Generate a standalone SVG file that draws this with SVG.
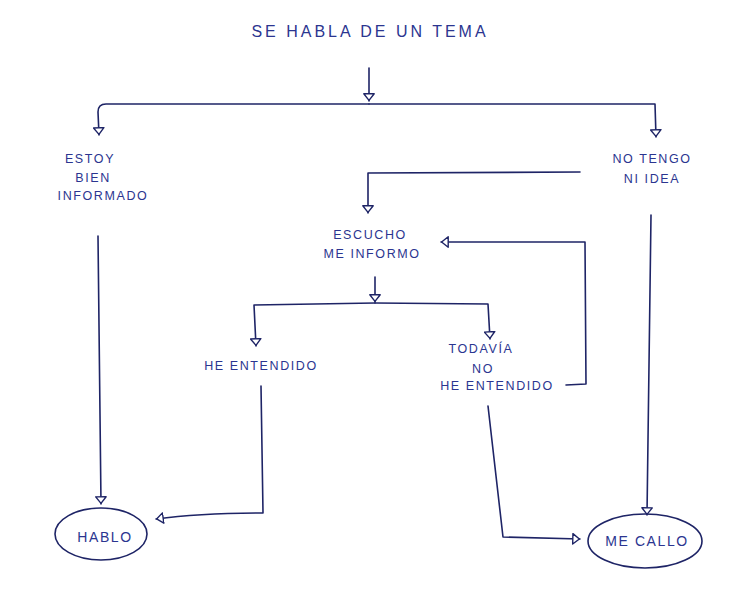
<svg xmlns="http://www.w3.org/2000/svg" width="747" height="596" viewBox="0 0 747 596">
  <style>
    .lbl { font-family: "Liberation Sans", Arial, sans-serif; font-size: 12.5px; fill: #2b3590; text-anchor: middle; letter-spacing: 1.6px; }
    .title { font-family: "Liberation Sans", Arial, sans-serif; font-size: 16px; fill: #2b3590; text-anchor: middle; letter-spacing: 3px; }
    .wire { fill: none; stroke: #1e2466; stroke-width: 1.6; stroke-linecap: round; stroke-linejoin: round; }
    .oval { fill: none; stroke: #1e2466; stroke-width: 1.6; }
  </style>
  <defs>
    <marker id="tri" viewBox="0 0 8 12" refX="8" refY="6" markerWidth="8" markerHeight="12" markerUnits="userSpaceOnUse" orient="auto">
      <path d="M0.8,0.8 L7.4,6 L0.8,11.2 Z" fill="#ffffff" stroke="#1e2466" stroke-width="1.4" stroke-linejoin="round"/>
    </marker>
  </defs>
  <rect width="747" height="596" fill="#ffffff"/>

  <g id="connectors">
    <path class="wire" d="M369,68 L369,101" marker-end="url(#tri)"/>
    <path class="wire" d="M369,104 L106,104 Q98,104 98,112 L99,135" marker-end="url(#tri)"/>
    <path class="wire" d="M369,104 L655,104 L656,137" marker-end="url(#tri)"/>
    <path class="wire" d="M580,172 L368,173 L368,213" marker-end="url(#tri)"/>
    <path class="wire" d="M375,277 L375,302" marker-end="url(#tri)"/>
    <path class="wire" d="M375,303 L254,305 L256,346" marker-end="url(#tri)"/>
    <path class="wire" d="M375,303 L488,304 L490,339" marker-end="url(#tri)"/>
    <path class="wire" d="M98,236 L101,504" marker-end="url(#tri)"/>
    <path class="wire" d="M261,386 L263,513 Q200,513 156,519" marker-end="url(#tri)"/>
    <path class="wire" d="M566,385 L586,384 L585,242 L441,242" marker-end="url(#tri)"/>
    <path class="wire" d="M488,406 L503,537 L580,539" marker-end="url(#tri)"/>
    <path class="wire" d="M651,215 L647,515" marker-end="url(#tri)"/>
  </g>

  <g id="topic">
    <text class="title" x="370" y="37">SE HABLA DE UN TEMA</text>
  </g>
  <g id="well-informed">
    <text class="lbl" x="90" y="163">ESTOY</text>
    <text class="lbl" x="93" y="182">BIEN</text>
    <text class="lbl" x="103" y="200">INFORMADO</text>
  </g>
  <g id="no-idea">
    <text class="lbl" x="652" y="163">NO TENGO</text>
    <text class="lbl" x="652" y="183">NI IDEA</text>
  </g>
  <g id="listen">
    <text class="lbl" x="370" y="239">ESCUCHO</text>
    <text class="lbl" x="372" y="258">ME INFORMO</text>
  </g>
  <g id="understood">
    <text class="lbl" x="261" y="370">HE ENTENDIDO</text>
  </g>
  <g id="not-yet">
    <text class="lbl" x="481" y="353">TODAVÍA</text>
    <text class="lbl" x="483" y="373">NO</text>
    <text class="lbl" x="497" y="390">HE ENTENDIDO</text>
  </g>
  <g id="speak">
    <ellipse class="oval" cx="101" cy="534" rx="46" ry="26"/>
    <text class="lbl" x="105" y="542" style="font-size:14px">HABLO</text>
  </g>
  <g id="silent">
    <ellipse class="oval" cx="645" cy="541" rx="57" ry="27"/>
    <text class="lbl" x="647" y="546" style="font-size:14px">ME CALLO</text>
  </g>
</svg>
